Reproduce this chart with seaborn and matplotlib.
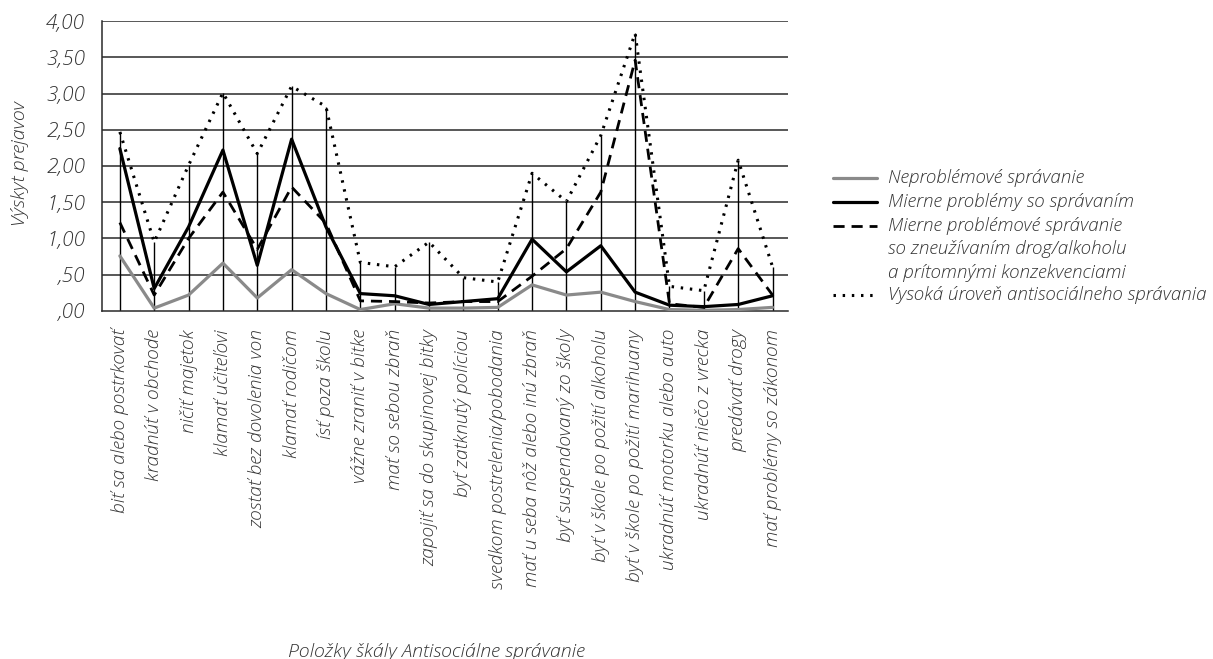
import numpy as np
import pandas as pd
import matplotlib
matplotlib.use('Agg')
import matplotlib.pyplot as plt
from matplotlib.lines import Line2D
import seaborn as sns

# polozky skaly
polozky = ["biť sa alebo postrkovať", "kradnúť v obchode", "ničiť majetok",
           "klamať učiteľovi", "zostať bez dovolenia von", "klamať rodičom",
           "ísť poza školu", "vážne zraniť v bitke", "mať so sebou zbraň",
           "zapojiť sa do skupinovej bitky", "byť zatknutý políciou",
           "svedkom postrelenia/pobodania", "mať u seba nôž alebo inú zbraň",
           "byť suspendovaný zo školy", "byť v škole po požití alkoholu",
           "byť v škole po požití marihuany", "ukradnúť motorku alebo auto",
           "ukradnúť niečo z vrecka", "predávať drogy", "mať problémy so zákonom"]

neproblemove = [0.76, 0.04, 0.22, 0.66, 0.18, 0.57, 0.24, 0.02, 0.10, 0.04,
                0.04, 0.05, 0.36, 0.22, 0.26, 0.13, 0.02, 0.01, 0.02, 0.05]
mierne = [2.24, 0.31, 1.16, 2.22, 0.63, 2.37, 1.16, 0.24, 0.21, 0.09,
          0.13, 0.17, 0.99, 0.54, 0.90, 0.26, 0.08, 0.06, 0.09, 0.21]
mierne_drogy = [1.22, 0.22, 1.00, 1.64, 0.85, 1.71, 1.21, 0.14, 0.13, 0.11,
                0.13, 0.13, 0.48, 0.86, 1.64, 3.46, 0.10, 0.05, 0.86, 0.22]
vysoka = [2.47, 0.95, 2.01, 3.01, 2.17, 3.10, 2.82, 0.67, 0.61, 0.95,
          0.46, 0.40, 1.90, 1.51, 2.42, 3.83, 0.34, 0.28, 2.08, 0.61]

skupiny = ["Neproblémové správanie", "Mierne problémy so správaním",
           "Mierne problémové správanie\nso zneužívaním drog/alkoholu\na prítomnými konzekvenciami",
           "Vysoká úroveň antisociálneho správania"]

y_ticks = [0, 0.5, 1.0, 1.5, 2.0, 2.5, 3.0, 3.5, 4.0]
y_labels = [",00", ",50", "1,00", "1,50", "2,00", "2,50", "3,00", "3,50", "4,00"]

sns.set_style("white")
plt.rcParams['font.family'] = ['Open Sans', 'DejaVu Sans']
plt.rcParams['font.style'] = 'italic'
plt.rcParams['font.weight'] = 'light'
txt = '#333333'

fig = plt.figure(figsize=(12.13, 6.59), dpi=100)
ax = fig.add_axes([102/1213, 1 - 311/659, (788 - 102)/1213, (311 - 21)/659])

poz = np.arange(len(polozky))
df = pd.DataFrame({'x': poz, 'neproblemove': neproblemove, 'mierne': mierne,
                   'mierne_drogy': mierne_drogy, 'vysoka': vysoka})

# grid
for yv in y_ticks[1:]:
    ax.axhline(yv, color='#2a2a2a', lw=1.1, zorder=1)

# drop lines from 0 to max
mx = df[['neproblemove', 'mierne', 'mierne_drogy', 'vysoka']].max(axis=1)
ax.vlines(df['x'], 0, mx, color='black', lw=1.0, zorder=2)

styles = [('neproblemove', '#8a8a8a', '-', 2.3),
          ('mierne', 'black', '-', 2.3),
          ('mierne_drogy', 'black', (0, (4, 2.5)), 2.0),
          ('vysoka', 'black', (0, (0.8, 2.2)), 2.2)]
for col, c, ls, lw in styles:
    sns.lineplot(data=df, x='x', y=col, ax=ax, color=c, lw=lw, zorder=3)
    ax.lines[-1].set_linestyle(ls)

ax.set_xlim(-0.52, len(polozky) - 0.55)
ax.set_ylim(0, 4.0)
ax.set_yticks(y_ticks)
ax.set_yticklabels(y_labels, fontsize=15, color=txt)
ax.set_xticks(poz)
ax.set_xticklabels(polozky, rotation=90, fontsize=13.8, color=txt, va='top', ha='center')
ax.tick_params(axis='x', length=0, pad=13)
ax.tick_params(axis='y', length=7, width=1.1, color='#2a2a2a', pad=5)
for s in ['top', 'right']:
    ax.spines[s].set_visible(False)
ax.spines['left'].set_color('#2a2a2a')
ax.spines['bottom'].set_color('#2a2a2a')
ax.spines['left'].set_linewidth(1.1)
ax.spines['bottom'].set_linewidth(1.1)
ax.set_xlabel('')
ax.set_ylabel('')

fig.text(20/1213, 1 - 164/659, 'Výskyt prejavov', rotation=90, fontsize=14,
         color=txt, ha='center', va='center')
fig.text(436/1213, 1 - 643/659, 'Položky škály Antisociálne správanie',
         fontsize=14, color=txt, ha='center', va='top')

# legenda
riadky = [178, 202, 226, 295]
for (col, c, ls, lw), lab, yp in zip(styles, skupiny, riadky):
    yy = 1 - yp/659
    fig.add_artist(Line2D([833/1213, 877/1213], [yy, yy], color=c, lw=lw, linestyle=ls))
    for k, riadok in enumerate(lab.split('\n')):
        fig.text(888/1213, 1 - (yp + k*23.3)/659, riadok, fontsize=13.5, color=txt,
                 ha='left', va='center')

fig.savefig('out.png', dpi=100)
